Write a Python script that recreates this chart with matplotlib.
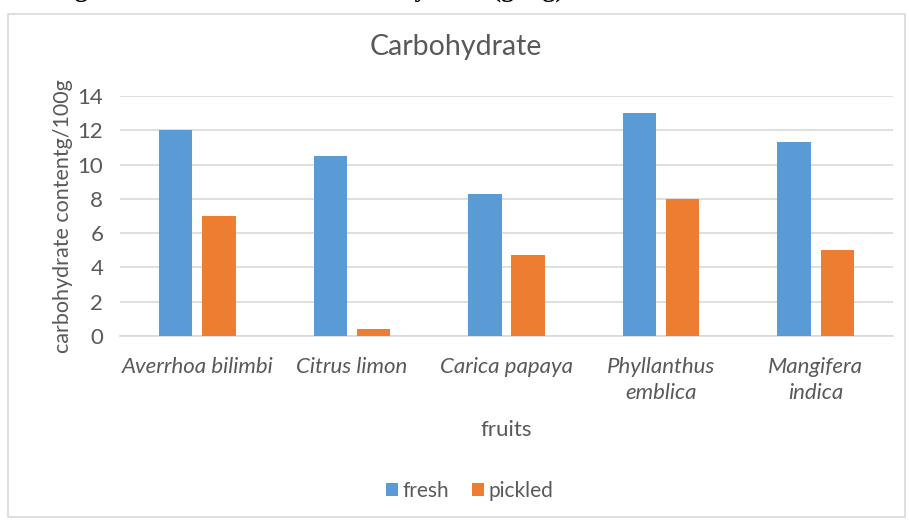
import matplotlib
matplotlib.use("Agg")
import matplotlib.pyplot as plt
import numpy as np
from matplotlib.patches import Rectangle

# Data
fruits = ["Averrhoa bilimbi", "Citrus limon", "Carica papaya",
          "Phyllanthus\nemblica", "Mangifera\nindica"]
fresh = [12.0, 10.5, 8.3, 13.0, 11.3]
pickled = [7.0, 0.4, 4.7, 8.0, 5.0]
y_ticks = [0, 2, 4, 6, 8, 10, 12, 14]

BLUE = "#5B9BD5"
ORANGE = "#ED7D31"
TEXT = "#595959"
GRID = "#D9D9D9"
FONT = "Lato"

W, H = 909, 522
fig = plt.figure(figsize=(W / 100, H / 100), dpi=100)
fig.patch.set_facecolor("white")

# caption line above the chart frame, mostly cut off by the top edge
fig.text(52 / W, 1 + 3 / H, "Figure 4: Total content of carbohydrate (g/mg)",
         family=["Liberation Serif", "DejaVu Serif"], weight="bold",
         fontsize=18.5, color="black", ha="left", va="baseline")

# chart frame
frame = Rectangle((8 / W, 1 - 517 / H), 897 / W, 503 / H,
                  transform=fig.transFigure, facecolor="none",
                  edgecolor=GRID, linewidth=1.2)
fig.add_artist(frame)

ax = fig.add_axes([120 / W, 1 - 336 / H, 773 / W, 240 / H])
ax.set_facecolor("none")

x = np.arange(len(fruits))
bw = 0.216
off = 0.14
ax.bar(x - off, fresh, bw, color=BLUE, label="fresh", zorder=3)
ax.bar(x + off, pickled, bw, color=ORANGE, label="pickled", zorder=3)

ax.set_xlim(-0.5, len(fruits) - 0.5)
ax.set_ylim(0, 14)
ax.set_yticks(y_ticks)
ax.yaxis.grid(True, color=GRID, linewidth=1.2, zorder=0)
ax.set_axisbelow(True)
for s in ["top", "right", "left"]:
    ax.spines[s].set_visible(False)
ax.spines["bottom"].set_color(GRID)
ax.spines["bottom"].set_linewidth(1.2)
ax.tick_params(axis="both", length=0, colors=TEXT, labelsize=16)
ax.tick_params(axis="y", pad=12)
ax.tick_params(axis="x", pad=15)

ax.set_xticks(x)
ax.set_xticklabels(fruits, fontstyle="italic", family=FONT, linespacing=1.4,
                   va="top")
for lbl in ax.get_yticklabels():
    lbl.set_family(FONT)

ax.set_ylabel("carbohydrate contentg/100g", family=FONT, fontsize=15.5,
              color=TEXT, labelpad=3)
ax.set_xlabel("fruits", family=FONT, fontsize=16, color=TEXT, labelpad=12)

fig.text(456 / W, 1 - 47 / H, "Carbohydrate", family=FONT, fontsize=20.5,
         color=TEXT, ha="center", va="center")

leg = fig.legend(loc="center", bbox_to_anchor=(470 / W, 1 - 491 / H), ncol=2,
                 frameon=False, prop={"family": FONT, "size": 15},
                 handlelength=0.55, handleheight=0.55, handletextpad=0.25,
                 columnspacing=1.1)
for t in leg.get_texts():
    t.set_color(TEXT)

fig.savefig("out.png", dpi=100, facecolor="white")
